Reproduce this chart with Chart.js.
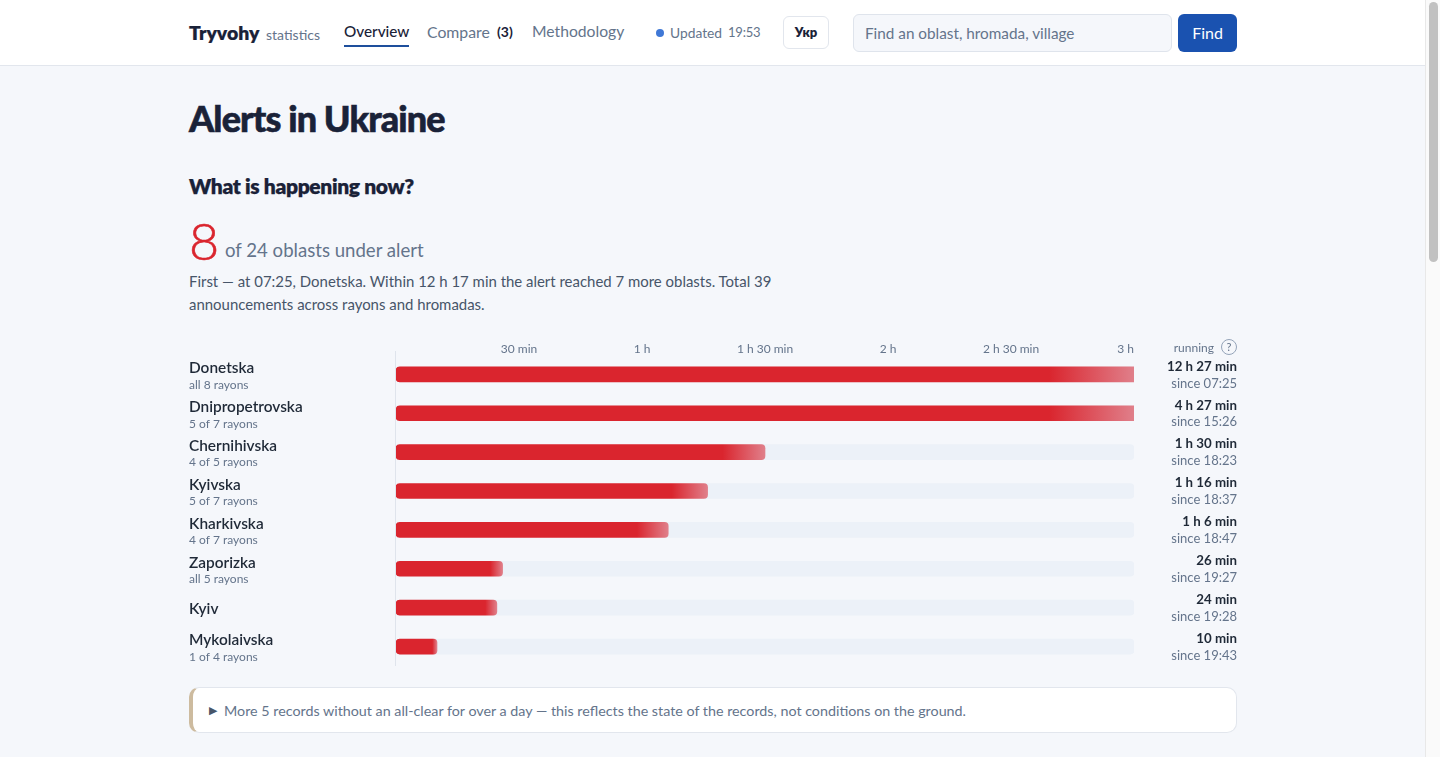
<!DOCTYPE html>
<html><head><meta charset="utf-8"><title>Alerts in Ukraine</title>
<script src="https://cdn.jsdelivr.net/npm/chart.js@4"></script>
<style>
html,body{margin:0;padding:0;height:757px;overflow:hidden;background:#f5f7fb;font-family:Lato,sans-serif}
.a{position:absolute;white-space:nowrap;line-height:1}
#hdr{position:absolute;left:0;top:0;width:1425px;height:65px;background:#fff;border-bottom:1px solid #e2e6ed}
#sb{position:absolute;left:1425px;top:0;width:15px;height:757px;background:#fafafa;border-left:1px solid #e8e8e8;box-sizing:border-box}
#th{position:absolute;left:1429px;top:2px;width:9px;height:260px;background:#c1c1c1;border-radius:5px}
#wrap{position:absolute;left:189px;top:338px;width:1048px;height:330px}
</style></head><body>
<div id="hdr"></div><div id="sb"></div><div id="th"></div>
<div class="a" style="left:189px;top:23px;font-size:19.4px;font-weight:800;color:#1a2238;-webkit-text-stroke:.2px #1a2238">Tryvohy</div>
<div class="a" style="left:266px;top:28px;font-size:14px;color:#64748b">statistics</div>
<div class="a" style="left:344px;top:24px;font-size:15.3px;font-weight:500;color:#1a2238">Overview</div>
<div class="a" style="left:344px;top:45px;width:65px;height:2px;background:#1e4f9c"></div>
<div class="a" style="left:427px;top:24px;font-size:15.8px;color:#64748b">Compare</div>
<div class="a" style="left:497px;top:25px;font-size:14px;font-weight:700;color:#1a2238">(3)</div>
<div class="a" style="left:532px;top:24px;font-size:15.7px;color:#64748b">Methodology</div>
<div class="a" style="left:656px;top:29px;width:8px;height:8px;border-radius:50%;background:#3f78d6"></div>
<div class="a" style="left:670px;top:26px;font-size:13.8px;color:#64748b">Updated</div>
<div class="a" style="left:728px;top:26px;font-size:13px;color:#64748b;letter-spacing:-.2px">19:53</div>
<div class="a" style="left:783px;top:16px;width:46px;height:33px;box-sizing:border-box;border:1px solid #e2e6ed;border-radius:6px;background:#fff;text-align:center;line-height:31px;font-size:13px;font-weight:800;color:#1a2238">Укр</div>
<div class="a" style="left:853px;top:14px;width:319px;height:38px;box-sizing:border-box;border:1px solid #dfe4ec;border-radius:6px;background:#f5f7fb;padding-left:11px;line-height:36px;font-size:15.3px;color:#64748b">Find an oblast, hromada, village</div>
<div class="a" style="left:1178px;top:14px;width:59px;height:38px;border-radius:6px;background:#1a52b0;text-align:center;line-height:38px;font-size:16px;color:#fff">Find</div>
<div class="a" style="left:189px;top:100px;font-size:36px;font-weight:900;letter-spacing:-.88px;color:#1a2238;-webkit-text-stroke:.6px #1a2238">Alerts in Ukraine</div>
<div class="a" style="left:189px;top:175px;font-size:21px;font-weight:800;letter-spacing:-.35px;color:#1a2238;-webkit-text-stroke:.25px #1a2238">What is happening now?</div>
<div class="a" style="left:189px;top:214px;font-size:52px;font-weight:300;color:#da252e;-webkit-text-stroke:.6px #da252e">8</div>
<div class="a" style="left:225px;top:241px;font-size:18.6px;color:#64748b">of 24 oblasts under alert</div>
<div class="a" style="left:189px;top:270px;font-size:14.95px;color:#475569;line-height:23px">First — at 07:25, Donetska. Within 12 h 17 min the alert reached 7 more oblasts. Total 39<br>announcements across rayons and hromadas.</div>
<div id="wrap"><canvas id="c"></canvas></div>
<div class="a" style="left:189px;top:687px;width:1048px;height:46px;box-sizing:border-box;background:#fff;border:1px solid #e2e6ed;border-left:4px solid #cdbb9f;border-radius:10px"></div>
<div class="a" style="left:209px;top:704px;font-size:11px;color:#475569">▶</div>
<div class="a" style="left:224px;top:704px;font-size:14.3px;color:#64748b">More 5 records without an all-clear for over a day — this reflects the state of the records, not conditions on the ground.</div>
<script>
const regions=["Donetska","Dnipropetrovska","Chernihivska","Kyivska","Kharkivska","Zaporizka","Kyiv","Mykolaivska"];
const rayons=["all 8 rayons","5 of 7 rayons","4 of 5 rayons","5 of 7 rayons","4 of 7 rayons","all 5 rayons","","1 of 4 rayons"];
const runningMinutes=[747,267,90,76,66.4,26,24.6,10];
const runningLabels=["12 h 27 min","4 h 27 min","1 h 30 min","1 h 16 min","1 h 6 min","26 min","24 min","10 min"];
const sinceLabels=["since 07:25","since 15:26","since 18:23","since 18:37","since 18:47","since 19:27","since 19:28","since 19:43"];
const axisMax=180;
const tickLabels={30:"30 min",60:"1 h",90:"1 h 30 min",120:"2 h",150:"2 h 30 min",180:"3 h"};
const trackValues=regions.map(()=>axisMax);
const RED="#da252e",FADE="#e07f8a",MUTED="#64748b",INK="#1f2937",LINE="#dfe4ec";
const F="Lato, sans-serif";

const rowText={id:"rowText",
  beforeDraw(chart){
    const xs=chart.scales.x, ys=chart.scales.y;
    const xi=xs.getLabelItems(chart.chartArea);
    xi.forEach(it=>{ if(it.label==="3 h") it.options.textAlign="right"; });
    const yi=ys.getLabelItems(chart.chartArea);
    yi.forEach((it,i)=>{ if(!it._moved){ it._moved=true; it.options.translation[1]+=rayons[i]?-6.2:1; }});
  },
  afterDraw(chart){
    const c=chart.ctx, ys=chart.scales.y, a=chart.chartArea, w=chart.width;
    c.save();
    c.strokeStyle=LINE;c.lineWidth=1;c.beginPath();c.moveTo(a.left-.5,13);c.lineTo(a.left-.5,a.bottom);c.stroke();
    c.textBaseline="middle";
    regions.forEach((r,i)=>{
      const y=ys.getPixelForValue(i);
      c.textAlign="left";c.fillStyle=MUTED;c.font="12px "+F;
      if(rayons[i]) c.fillText(rayons[i],0,y+10.5);
      c.textAlign="right";c.fillStyle=INK;c.font="700 13.3px "+F;
      c.fillText(runningLabels[i],w,y-8);
      c.fillStyle=MUTED;c.font="13px "+F;
      c.fillText(sinceLabels[i],w,y+9);
    });
    c.textAlign="right";c.font="12px "+F;c.fillStyle=MUTED;c.fillText("running",w-23,10);
    c.strokeStyle="#94a3b8";c.beginPath();c.arc(w-8,9,7.5,0,Math.PI*2);c.stroke();
    c.textAlign="center";c.font="11px "+F;c.fillText("?",w-8,9.5);
    c.restore();
  }};

new Chart(document.getElementById("c"),{
  type:"bar",
  data:{labels:regions,datasets:[
    {label:"running",data:runningMinutes,order:1,barThickness:15,grouped:false,borderSkipped:false,
     borderRadius:ctx=>ctx.raw>axisMax?{topLeft:4,bottomLeft:4,topRight:0,bottomRight:0}:4,
     backgroundColor(ctx){
       const s=ctx.chart.scales.x; if(!s||ctx.raw==null) return RED;
       const x0=s.getPixelForValue(0), x1=s.getPixelForValue(Math.min(ctx.raw,axisMax));
       if(!isFinite(x0)||!isFinite(x1)) return RED;
       const g=ctx.chart.ctx.createLinearGradient(x0,0,x1,0);
       g.addColorStop(0,RED);g.addColorStop(.885,RED);g.addColorStop(1,FADE);return g;
     }},
    {label:"track",data:trackValues,order:2,barThickness:15,grouped:false,borderSkipped:false,borderRadius:4,backgroundColor:"#ecf1f8"}
  ]},
  options:{indexAxis:"y",responsive:true,maintainAspectRatio:false,animation:false,devicePixelRatio:1,
    layout:{padding:{right:103,bottom:2}},
    plugins:{legend:{display:false},tooltip:{enabled:false}},
    scales:{
      x:{type:"linear",position:"top",min:0,max:axisMax,
        grid:{display:false,drawTicks:false},border:{display:false},
        afterFit(s){s.height=16.9;s.paddingLeft=0;s.paddingRight=0;},
        ticks:{stepSize:30,autoSkip:false,maxRotation:0,padding:-1,color:MUTED,font:{family:F,size:12},
          callback:v=>tickLabels[v]||""}},
      y:{type:"category",grid:{display:false,drawTicks:false},border:{display:false},
        afterFit(s){s.width=207;s.paddingTop=0;s.paddingBottom=0;},
        ticks:{crossAlign:"far",autoSkip:false,padding:0,color:INK,font:{family:F,size:15.4,weight:"600"}}}
    }},
  plugins:[rowText]
});
</script>
</body></html>
